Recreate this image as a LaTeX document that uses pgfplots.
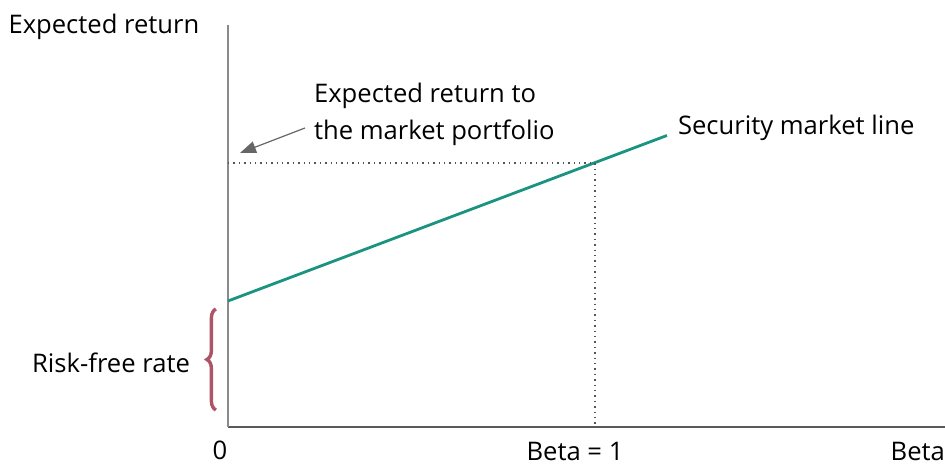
\documentclass[border=0pt]{standalone}
\usepackage{pgfplots}
\pgfplotsset{compat=1.18}
\usepackage{fontspec}
\setmainfont{Open Sans}
\usetikzlibrary{decorations.pathreplacing,arrows.meta}
\definecolor{smlteal}{HTML}{1A9480}
\definecolor{bracered}{HTML}{AD5566}
\definecolor{axgray}{HTML}{8A8A8A}
\definecolor{dotgray}{HTML}{555555}
\newcommand{\lblfont}{\fontsize{12.8}{15}\selectfont}
\begin{document}
\begin{tikzpicture}
\begin{axis}[name=ax,
  scale only axis, width=358.5pt, height=201pt,
  xmin=0, xmax=1.9537, ymin=0, ymax=402,
  axis lines=left, axis line style={-, line width=0.9pt},
  x axis line style={draw=black!65}, y axis line style={draw=axgray},
  xtick=\empty, ytick=\empty, clip=false,
  font=\lblfont]
\addplot[smlteal, line width=1.4pt] coordinates {(0,126) (1.196,291.5)};
\addplot[dotgray, dotted, line width=0.7pt] coordinates {(0,264) (1,264) (1,0)};
\draw[bracered, line width=1.7pt, decorate, decoration={brace, amplitude=4.5pt}] (axis cs:-0.033,17) -- (axis cs:-0.033,118);
\draw[black!60, line width=0.6pt, -{Triangle[length=8pt,width=6pt]}] (axis cs:0.2098,299) -- (axis cs:0.0327,274);
\node[anchor=center, font=\lblfont] at (axis cs:-0.338,400) {Expected return};
\node[anchor=east, font=\lblfont] at (axis cs:-0.0845,64) {Risk-free rate};
\node[anchor=west, font=\lblfont] at (axis cs:0.2153,331) {Expected return to};
\node[anchor=west, font=\lblfont] at (axis cs:0.2153,294) {the market portfolio};
\node[anchor=west, font=\lblfont] at (axis cs:1.2071,299) {Security market line};
\node[anchor=center, font=\lblfont] at (axis cs:-0.0218,-23) {0};
\node[anchor=center, font=\lblfont] at (axis cs:0.9455,-24) {Beta = 1};
\node[anchor=east, font=\lblfont] at (axis cs:1.9728,-24) {Beta};
\end{axis}
\pgfresetboundingbox
\path[use as bounding box] ([shift={(-114pt,-19pt)}]ax.south west) rectangle ([shift={(358.5pt,213.5pt)}]ax.south west);
\end{tikzpicture}
\end{document}
